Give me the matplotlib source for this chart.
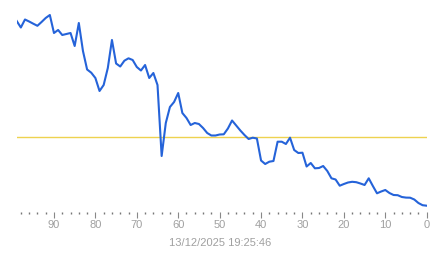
import matplotlib
matplotlib.use("Agg")
import matplotlib.pyplot as plt
from matplotlib.ticker import MultipleLocator

# x positions: 99 ... 0 (axis is inverted)
x_values = list(range(99, -1, -1))
y_values = [
    199, 192.5, 200.5, 198.5, 196.3, 194.2, 198, 202, 205, 187,
    190, 185, 186, 187, 174, 197, 169, 150.5, 147.3, 142,
    129, 135, 152, 180, 156.5, 153.5, 159.3, 161.7, 160, 153,
    149.5, 155, 142, 147, 135, 64, 97, 113, 118, 127,
    107, 102, 95, 97, 96, 92, 87, 84.5, 84.5, 85.5,
    85.7, 91.5, 99.5, 94.5, 89.5, 85, 81, 82.3, 81.5, 59.5,
    56, 58.3, 59, 78.3, 78.3, 76, 82.3, 70, 67, 67.3,
    53.5, 57, 51.7, 52, 54, 49, 41.7, 40.5, 34.3, 36,
    37.5, 38.2, 37.8, 36.5, 35, 41.7, 34, 26.7, 28.5, 30,
    27, 25, 24.8, 23, 22.4, 22.3, 20.5, 17, 14.8, 14.3,
]
reference_level = 83
major_ticks = [0, 10, 20, 30, 40, 50, 60, 70, 80, 90]
timestamp = "13/12/2025 19:25:46"

plt.rcParams["font.family"] = ["Liberation Sans", "DejaVu Sans"]

fig = plt.figure(figsize=(4.43, 2.58), dpi=100)
ax = fig.add_axes([16.7 / 443, (258 - 212) / 258, 410 / 443, 202 / 258])

ax.axhline(reference_level, color="#eed250", linewidth=1.0, zorder=1)
ax.plot(x_values, y_values, color="#2563d9", linewidth=1.5, zorder=2,
        solid_joinstyle="round")

ax.set_xlim(99, 0)
ax.set_ylim(8, 210)
ax.set_xticks(major_ticks)
ax.set_xticklabels([str(t) for t in major_ticks])
ax.xaxis.set_minor_locator(MultipleLocator(2))
ax.tick_params(axis="x", which="major", direction="out", length=4.5, width=0.8,
               color="#888888", labelcolor="#a0a0a0", labelsize=8, pad=1.5)
ax.tick_params(axis="x", which="minor", direction="out", length=1.2, width=1,
               color="#777777")
ax.set_yticks([])
for s in ax.spines.values():
    s.set_visible(False)

fig.text(220 / 443, (258 - 243) / 258, timestamp, ha="center", va="center",
         color="#a0a0a0", fontsize=8)

fig.savefig("out.png", dpi=100)
